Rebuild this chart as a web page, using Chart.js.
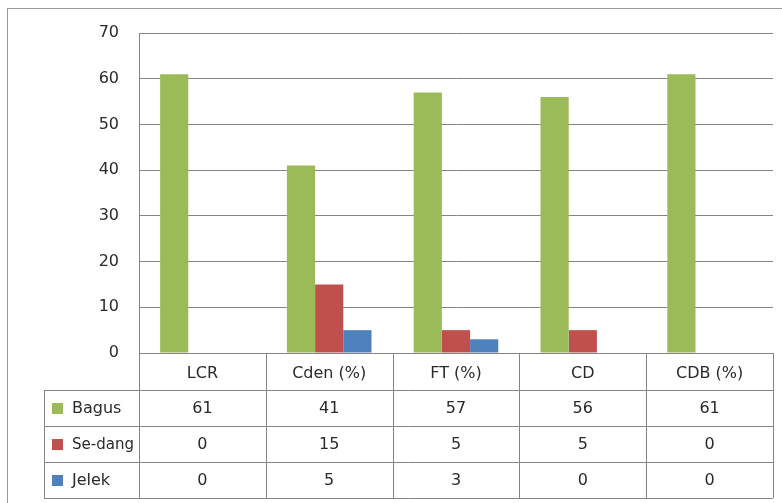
<!DOCTYPE html>
<html>
<head>
<meta charset="utf-8">
<script src="https://cdn.jsdelivr.net/npm/chart.js@4/dist/chart.umd.min.js"></script>
<style>
  html, body { margin: 0; padding: 0; background: #ffffff; }
  #wrap { width: 782px; height: 503px; position: relative; }
</style>
</head>
<body>
<div id="wrap"><canvas id="c"></canvas></div>
<script>
const categories = ["LCR", "Cden (%)", "FT (%)", "CD", "CDB (%)"];
const seriesNames = ["Bagus", "Se-dang", "Jelek"];
const bagus = [61, 41, 57, 56, 61];
const sedang = [0, 15, 5, 5, 0];
const jelek = [0, 5, 3, 0, 0];
const seriesColors = ["#9BBB59", "#C0504D", "#4F81BD"];
const yTicks = [0, 10, 20, 30, 40, 50, 60, 70];

const FONT = "'DejaVu Sans', sans-serif";
const LINE = "#858585";
const TEXT = "#2a2a2a";

const tablePlugin = {
  id: "dataTable",
  beforeDraw(chart) {
    const ctx = chart.ctx;
    ctx.save();
    ctx.fillStyle = "#ffffff";
    ctx.fillRect(0, 0, chart.width, chart.height);
    ctx.strokeStyle = "#9a9a9a";
    ctx.lineWidth = 1;
    ctx.strokeRect(7.5, 8.5, chart.width + 10, chart.height + 10);
    ctx.restore();
  },
  afterDraw(chart) {
    const ctx = chart.ctx;
    const area = chart.chartArea;
    const xs = chart.scales.x;
    const n = categories.length;
    const colW = (area.right - area.left) / n;
    const headerH = 37, rowH = 36;
    const legendLeft = 44;
    const rowsTop = area.bottom + headerH;
    const tableBottom = rowsTop + rowH * seriesNames.length;
    ctx.save();
    ctx.strokeStyle = LINE;
    ctx.lineWidth = 1;
    ctx.beginPath();
    for (let i = 0; i <= n; i++) {
      const x = Math.round(area.left + i * colW) + 0.5;
      ctx.moveTo(x, area.bottom);
      ctx.lineTo(x, tableBottom);
    }
    for (let r = 0; r <= seriesNames.length; r++) {
      const y = Math.round(rowsTop + r * rowH) + 0.5;
      ctx.moveTo(legendLeft, y);
      ctx.lineTo(area.right, y);
    }
    ctx.moveTo(legendLeft + 0.5, rowsTop);
    ctx.lineTo(legendLeft + 0.5, tableBottom);
    ctx.stroke();

    ctx.font = "16px " + FONT;
    ctx.textBaseline = "middle";
    chart.data.datasets.forEach((ds, r) => {
      const cy = rowsTop + r * rowH + rowH / 2 + 1;
      ctx.fillStyle = ds.backgroundColor;
      ctx.fillRect(legendLeft + 8, cy - 6, 11, 11);
      ctx.fillStyle = TEXT;
      ctx.textAlign = "left";
      ctx.fillText(ds.label, legendLeft + 28, cy, area.left - legendLeft - 33);
      ctx.textAlign = "center";
      ds.data.forEach((v, i) => {
        ctx.fillText(String(v), xs.getPixelForValue(i), cy);
      });
    });
    ctx.restore();
  }
};

new Chart(document.getElementById("c"), {
  type: "bar",
  data: {
    labels: categories,
    datasets: [
      { label: seriesNames[0], data: bagus, backgroundColor: seriesColors[0] },
      { label: seriesNames[1], data: sedang, backgroundColor: seriesColors[1] },
      { label: seriesNames[2], data: jelek, backgroundColor: seriesColors[2] }
    ]
  },
  options: {
    responsive: true,
    maintainAspectRatio: false,
    animation: false,
    events: [],
    layout: { padding: { left: 8, top: 33, right: 9, bottom: 0 } },
    datasets: { bar: { categoryPercentage: 0.667, barPercentage: 1.0, borderWidth: 0 } },
    plugins: { legend: { display: false }, tooltip: { enabled: false } },
    scales: {
      x: {
        afterFit(scale) { scale.height = 150; },
        grid: { display: false, drawTicks: false },
        border: { display: true, color: LINE, width: 1 },
        ticks: { font: { family: FONT, size: 16 }, color: TEXT, padding: 11, maxRotation: 0, autoSkip: false }
      },
      y: {
        min: 0, max: 70,
        afterFit(scale) { scale.width = 131; },
        afterBuildTicks(scale) { scale.ticks = yTicks.map(v => ({ value: v })); },
        grid: { color: LINE, lineWidth: 1, drawTicks: false },
        border: { display: true, color: LINE, width: 1 },
        ticks: { font: { family: FONT, size: 16 }, color: TEXT, padding: 20 }
      }
    }
  },
  plugins: [tablePlugin]
});
</script>
</body>
</html>
